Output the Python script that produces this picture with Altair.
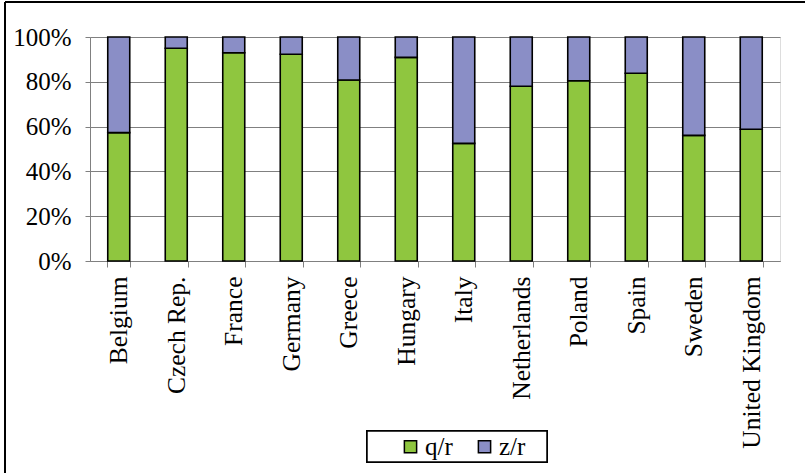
import altair as alt
import pandas as pd

countries = ["Belgium", "Czech Rep.", "France", "Germany", "Greece", "Hungary",
             "Italy", "Netherlands", "Poland", "Spain", "Sweden", "United Kingdom"]
q_share = [57.3, 95.0, 93.0, 92.3, 80.8, 90.9, 52.5, 78.0, 80.5, 83.8, 56.1, 58.8]
z_share = [round(100 - v, 1) for v in q_share]
series = ["q/r", "z/r"]
colors = ["#8fc63f", "#8a8ec6"]

rows = []
for c, q, z in zip(countries, q_share, z_share):
    rows.append({"country": c, "series": "q/r", "value": q / 100, "ord": 0})
    rows.append({"country": c, "series": "z/r", "value": z / 100, "ord": 1})
df = pd.DataFrame(rows)

FONT = "Liberation Serif"
W, H = 690, 224

bars = alt.Chart(df).mark_bar(size=22, stroke="black", strokeWidth=1.6).encode(
    x=alt.X("country:N", sort=countries, title=None,
            scale=alt.Scale(paddingInner=0.6, paddingOuter=0.3),
            axis=alt.Axis(labelAngle=-90, labelFont=FONT, labelFontSize=25.5,
                          labelColor="black", tickBand="extent", tickSize=6,
                          tickColor="#808080", domainColor="#808080",
                          labelPadding=9, labelBaseline="middle", labelAlign="right")),
    y=alt.Y("value:Q", stack="zero", title=None,
            scale=alt.Scale(domain=[0, 1], nice=False),
            axis=alt.Axis(format="%", values=[0, 0.2, 0.4, 0.6, 0.8, 1.0],
                          labelFont=FONT, labelFontSize=25, labelColor="black",
                          grid=True, gridColor="#808080", gridWidth=1.2,
                          tickColor="#808080", tickSize=5, domainColor="#808080",
                          labelPadding=14)),
    color=alt.Color("series:N", scale=alt.Scale(domain=series, range=colors),
                    legend=alt.Legend(title=None, orient="none", legendX=308, legendY=397,
                                      direction="horizontal", labelFont=FONT,
                                      labelFontSize=25, labelColor="black",
                                      symbolType="square", symbolSize=150,
                                      symbolStrokeColor="black", symbolStrokeWidth=1.5,
                                      symbolOpacity=1, padding=0,
                                      columnPadding=19, labelOffset=2)),
    order=alt.Order("ord:Q"),
)

legend_box = alt.Chart(df).mark_rect(fill="white", stroke="black", strokeWidth=1.5).encode(
    x=alt.value(277), x2=alt.value(457), y=alt.value(394), y2=alt.value(425))

frame_top = alt.Chart(df).mark_rule(color="black", strokeWidth=2).encode(
    x=alt.value(-85), x2=alt.value(730), y=alt.value(-35), y2=alt.value(-35))
frame_left = alt.Chart(df).mark_rule(color="black", strokeWidth=2).encode(
    x=alt.value(-85), x2=alt.value(-85), y=alt.value(-35), y2=alt.value(440))

chart = alt.layer(legend_box, bars, frame_top, frame_left).properties(
    width=W, height=H,
    autosize=alt.AutoSizeParams(type="none"),
    padding={"left": 90, "top": 37, "right": 25, "bottom": 212},
).configure_view(stroke="#808080", strokeWidth=1.5).configure(background="white")

chart.save("out.html", embed_options={"renderer": "svg", "actions": False})
